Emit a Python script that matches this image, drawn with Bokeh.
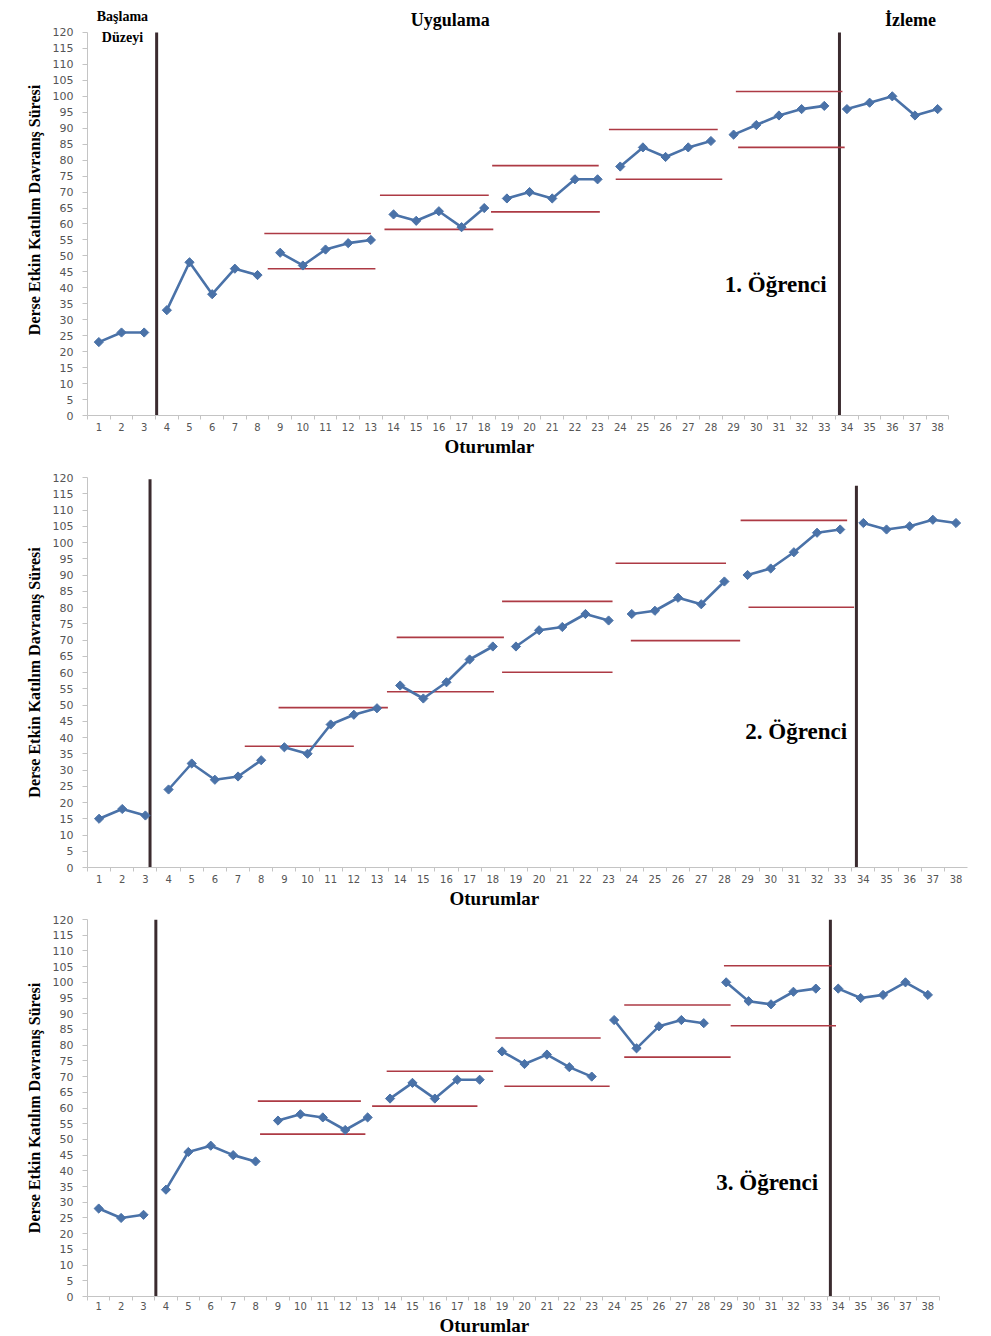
import numpy as np
from bokeh.plotting import figure
from bokeh.layouts import column
from bokeh.models import FixedTicker, Label, Title
from bokeh.embed import file_html
from bokeh.resources import INLINE

# ---------------- data ----------------
sessions = list(range(1, 39))
x_tick_labels = [str(s) for s in sessions]
y_ticks = list(range(0, 125, 5))
phase_last_sessions = [3, 8, 13, 18, 23, 28, 33, 38]

student1 = [23, 26, 26, 33, 48, 38, 46, 44, 51, 47, 52, 54, 55, 63, 61, 64, 59, 65,
            68, 70, 68, 74, 74, 78, 84, 81, 84, 86, 88, 91, 94, 96, 97, 96, 98, 100, 94, 96]
student2 = [15, 18, 16, 24, 32, 27, 28, 33, 37, 35, 44, 47, 49, 56, 52, 57, 64, 68,
            68, 73, 74, 78, 76, 78, 79, 83, 81, 88, 90, 92, 97, 103, 104, 106, 104, 105, 107, 106]
student3 = [28, 25, 26, 34, 46, 48, 45, 43, 56, 58, 57, 53, 57, 63, 68, 63, 69, 69,
            78, 74, 77, 73, 70, 88, 79, 86, 88, 87, 100, 94, 93, 97, 98, 98, 95, 96, 100, 96]

# criterion band lines (start session, end session, level)
s1_upper_x0 = [8.3, 13.4, 18.35, 23.5, 29.1]
s1_upper_x1 = [13.0, 18.2, 23.05, 28.3, 33.8]
s1_upper_y = [57, 69, 78.3, 89.6, 101.5]
s1_lower_x0 = [8.45, 13.6, 18.3, 23.8, 29.2]
s1_lower_x1 = [13.2, 18.4, 23.1, 28.5, 33.9]
s1_lower_y = [46, 58.3, 63.8, 74, 84]

s2_upper_x0 = [8.75, 13.85, 18.4, 23.3, 28.7]
s2_upper_x1 = [13.47, 18.48, 23.17, 28.07, 33.3]
s2_upper_y = [49.2, 70.8, 81.9, 93.6, 106.8]
s2_lower_x0 = [7.29, 13.43, 18.4, 23.96, 29.04]
s2_lower_x1 = [12.0, 18.05, 23.17, 28.68, 33.6]
s2_lower_y = [37.3, 54.1, 60.1, 69.8, 80.1]

s3_upper_x0 = [8.1, 13.85, 18.7, 24.45, 28.9]
s3_upper_x1 = [12.7, 18.6, 23.4, 29.2, 33.7]
s3_upper_y = [62.2, 71.7, 82.3, 92.8, 105.3]
s3_lower_x0 = [8.2, 13.2, 19.1, 24.45, 29.2]
s3_lower_x1 = [12.9, 17.9, 23.8, 29.2, 33.9]
s3_lower_y = [51.7, 60.6, 66.9, 76.2, 86.2]

# phase change lines
s1_phase_x = [3.55, 33.67]
s1_phase_top = [120, 120]
s2_phase_x = [3.2, 33.7]
s2_phase_top = [119.5, 117.5]
s3_phase_x = [3.55, 33.65]
s3_phase_top = [120, 120]

student_names = ["1. Öğrenci", "2. Öğrenci", "3. Öğrenci"]
y_title = "Derse Etkin Katılım Davranış Süresi"
x_title = "Oturumlar"
phase_titles = ["Başlama", "Düzeyi", "Uygulama", "İzleme"]

# ---------------- style ----------------
BLUE = "#4a72a8"
RED = "#ad3a44"
DARK = "#3b2b2f"
GRAY_TXT = "#555555"
AXIS_GRAY = "#c4c4c4"
SERIF = "Liberation Serif"
FIG_W = 985
B_LEFT = 87
B_RIGHT = 18
FRAME_W = FIG_W - B_LEFT - B_RIGHT


def make_panel(values, ux0, ux1, uy, lx0, lx1, ly, px, ptop, name, name_pos,
               height, unit_px, y_end, b_top, label_standoff, title_offset):
    x_end = 0.5 + FRAME_W / unit_px
    p = figure(width=FIG_W, height=height, x_range=(0.5, x_end), y_range=(0, y_end),
               output_backend="svg", toolbar_location=None,
               min_border_left=B_LEFT, min_border_right=B_RIGHT,
               min_border_top=b_top, min_border_bottom=10)
    p.background_fill_color = "white"
    p.border_fill_color = "white"
    p.outline_line_color = None
    p.grid.visible = False

    # y axis
    ya = p.yaxis[0]
    ya.ticker = FixedTicker(ticks=y_ticks)
    ya.bounds = (0, 120)
    ya.axis_line_color = AXIS_GRAY
    ya.major_tick_line_color = AXIS_GRAY
    ya.major_tick_out = 5
    ya.major_tick_in = 0
    ya.minor_tick_line_color = None
    ya.major_label_text_font = "DejaVu Sans"
    ya.major_label_text_font_size = "11px"
    ya.major_label_text_color = GRAY_TXT
    ya.major_label_standoff = 9
    ya.axis_label = y_title
    ya.axis_label_text_font = SERIF
    ya.axis_label_text_font_style = "bold"
    ya.axis_label_text_font_size = "16px"
    ya.axis_label_text_color = "black"
    ya.axis_label_standoff = 7

    # x axis
    xa = p.xaxis[0]
    xa.ticker = FixedTicker(ticks=sessions, minor_ticks=[s - 0.5 for s in sessions] + [38.5])
    xa.bounds = (0.5, 38.5)
    xa.major_label_overrides = {s: lab for s, lab in zip(sessions, x_tick_labels)}
    xa.axis_line_color = AXIS_GRAY
    xa.major_tick_line_color = None
    xa.major_tick_out = 0
    xa.major_tick_in = 0
    xa.minor_tick_line_color = AXIS_GRAY
    xa.minor_tick_out = 4
    xa.minor_tick_in = 0
    xa.major_label_text_font = "DejaVu Sans"
    xa.major_label_text_font_size = "10px"
    xa.major_label_text_color = GRAY_TXT
    xa.major_label_standoff = label_standoff

    # phase change lines
    p.segment(x0=px, y0=[0] * len(px), x1=px, y1=ptop, line_color=DARK, line_width=3)

    # criterion lines
    p.segment(x0=ux0, y0=uy, x1=ux1, y1=uy, line_color=RED, line_width=1.6)
    p.segment(x0=lx0, y0=ly, x1=lx1, y1=ly, line_color=RED, line_width=1.6)

    # data line broken by phase
    xs, ys = [], []
    start = 0
    for last in phase_last_sessions:
        xs += sessions[start:last] + [np.nan]
        ys += values[start:last] + [np.nan]
        start = last
    p.line(xs, ys, line_color=BLUE, line_width=2.6)
    p.scatter(sessions, values, marker="square", angle=np.pi / 4, size=6.5,
              fill_color=BLUE, line_color=BLUE)

    p.add_layout(Label(x=name_pos[0], y=name_pos[1], text=name, text_align="right",
                       text_baseline="middle", text_font=SERIF, text_font_style="bold",
                       text_font_size="23px", text_color="black"))
    p.add_layout(Title(text=x_title, align="left", offset=title_offset,
                       standoff=0, text_font=SERIF, text_font_style="bold",
                       text_font_size="19px", text_color="black"), "below")
    return p


p1 = make_panel(student1, s1_upper_x0, s1_upper_x1, s1_upper_y,
                s1_lower_x0, s1_lower_x1, s1_lower_y, s1_phase_x, s1_phase_top,
                student_names[0], (33.1, 41), height=456, unit_px=22.67, y_end=128.77,
                b_top=4, label_standoff=3, title_offset=357)
p2 = make_panel(student2, s2_upper_x0, s2_upper_x1, s2_upper_y,
                s2_lower_x0, s2_lower_x1, s2_lower_y, s2_phase_x, s2_phase_top,
                student_names[1], (33.3, 41.9), height=452, unit_px=23.16, y_end=120,
                b_top=21, label_standoff=3, title_offset=362)
p3 = make_panel(student3, s3_upper_x0, s3_upper_x1, s3_upper_y,
                s3_lower_x0, s3_lower_x1, s3_lower_y, s3_phase_x, s3_phase_top,
                student_names[2], (33.1, 36.2), height=427, unit_px=22.41, y_end=120,
                b_top=11, label_standoff=1, title_offset=352)

# phase headings inside the top panel, above the y-axis extent
for txt, x, y, fs in [(phase_titles[0], 2.04, 125.0, "14px"),
                      (phase_titles[1], 2.04, 118.4, "14px"),
                      (phase_titles[2], 16.5, 123.8, "18px"),
                      (phase_titles[3], 36.8, 123.8, "18px")]:
    p1.add_layout(Label(x=x, y=y, text=txt, text_align="center", text_baseline="middle",
                        text_font=SERIF, text_font_style="bold", text_font_size=fs,
                        text_color="black"))

layout = column(p1, p2, p3, spacing=0)
open("out.html", "w").write(file_html(layout, INLINE))
